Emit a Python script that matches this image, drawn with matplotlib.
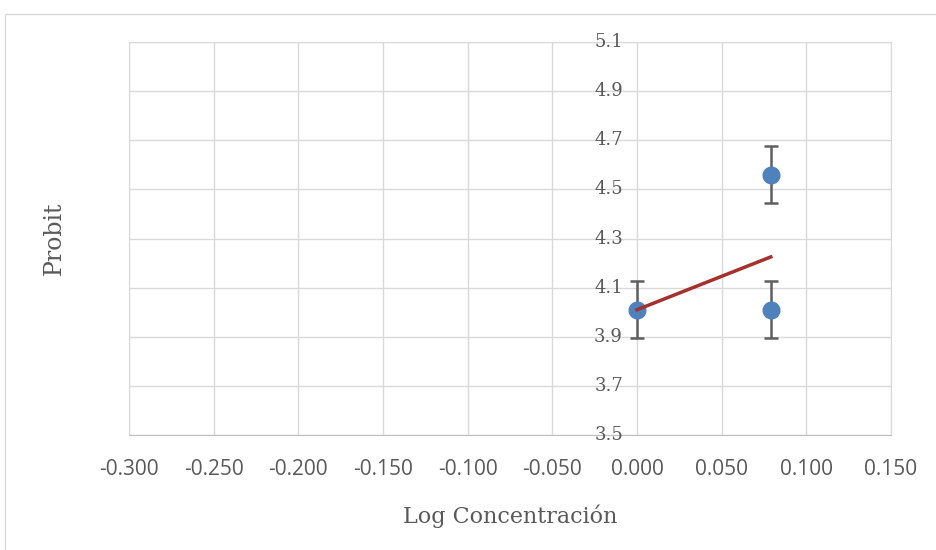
import matplotlib.pyplot as plt
from matplotlib.patches import Rectangle

# Data
log_conc = [0.000, 0.079, 0.079]
probit = [4.01, 4.56, 4.01]
err = [0.115, 0.116, 0.115]
trend_x = [0.000, 0.079]
trend_y = [4.01, 4.225]

x_ticks = [-0.30, -0.25, -0.20, -0.15, -0.10, -0.05, 0.00, 0.05, 0.10, 0.15]
y_ticks = [3.5, 3.7, 3.9, 4.1, 4.3, 4.5, 4.7, 4.9, 5.1]

plt.rcParams['font.family'] = ['DejaVu Serif']
txt = '#595959'
grid = '#d9d9d9'

fig = plt.figure(figsize=(9.36, 5.5), dpi=100)
# outer chart border
fig.patches.append(Rectangle((5/936, -0.1), 2, 1.1 - 14/550, transform=fig.transFigure,
                             fill=False, edgecolor=grid, lw=1))
ax = fig.add_axes([129/936, 1 - 435/550, (891 - 129)/936, (435 - 42)/550])

ax.set_xlim(-0.30, 0.15)
ax.set_ylim(3.5, 5.1)
ax.set_xticks(x_ticks)
ax.set_yticks(y_ticks)
ax.grid(True, color=grid, lw=1)
ax.set_axisbelow(True)
for s in ['top', 'right', 'left']:
    ax.spines[s].set_color(grid)
ax.spines['bottom'].set_color('#bfbfbf')
ax.tick_params(length=0, colors=txt)
ax.set_xticklabels(['%.3f' % v for v in x_ticks], family='Open Sans', fontsize=15)
ax.tick_params(axis='x', pad=17)
ax.set_yticklabels([])

# y tick labels sit at x = 0 (vertical axis crosses there)
for v in y_ticks:
    ax.text(-0.0083, v, '%.1f' % v, ha='right', va='center', fontsize=13, color=txt)

ax.errorbar(log_conc, probit, yerr=err, fmt='o', color='#4f81bd', ms=12,
            ecolor='#5f5f5f', elinewidth=1.8, capsize=5, capthick=1.8, zorder=3)
ax.plot(trend_x, trend_y, color='#a5302c', lw=2.5, zorder=4)

fig.text(510/936, 1 - 516/550, 'Log Concentración', fontsize=16, color=txt,
         ha='center', va='center')
fig.text(54/936, 1 - 238/550, 'Probit', fontsize=17, color=txt, rotation=90,
         ha='center', va='center')

fig.savefig('out.png', dpi=100)
